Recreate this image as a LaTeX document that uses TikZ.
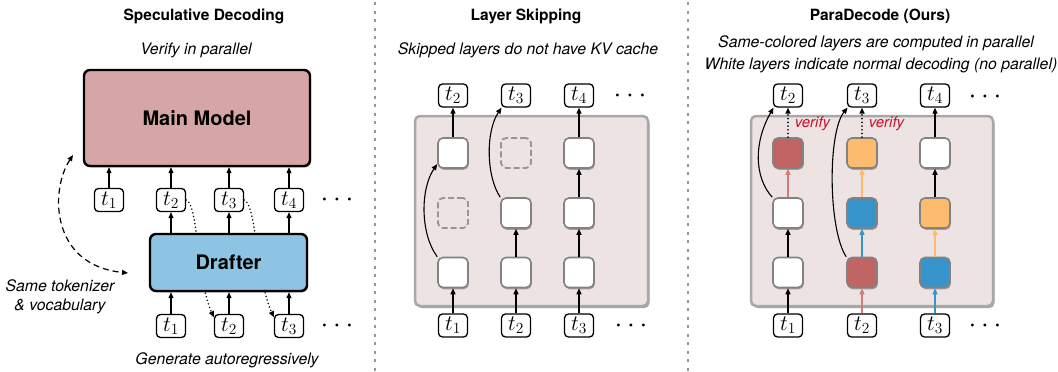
\RequirePackage{fix-cm}
\documentclass[tikz,border=0pt]{standalone}
\usepackage[no-math]{fontspec}
\setmainfont{TeX Gyre Heros}
\usetikzlibrary{arrows.meta,shadows}
\definecolor{mmfill}{RGB}{214,166,166}
\definecolor{drfill}{RGB}{141,196,227}
\definecolor{boxfill}{RGB}{237,227,227}
\definecolor{boxline}{RGB}{168,168,168}
\definecolor{cellline}{RGB}{130,130,130}
\definecolor{cred}{RGB}{192,100,100}
\definecolor{corange}{RGB}{253,187,109}
\definecolor{cblue}{RGB}{55,148,202}
\definecolor{ared}{RGB}{208,122,122}
\definecolor{vred}{RGB}{200,16,46}
\definecolor{sepgray}{RGB}{150,150,150}
\begin{document}
\begin{tikzpicture}[x=1pt,y=-1pt,
  tok/.style={draw,line width=1.3pt,rounded corners=4pt,fill=white,minimum width=29pt,minimum height=23pt,inner sep=0pt,font=\fontsize{22}{22}\selectfont},
  cshadow/.style={drop shadow={shadow xshift=0.8pt,shadow yshift=-1.8pt,opacity=0.3,fill=black}},
  cell/.style={draw=cellline,line width=1.6pt,rounded corners=5pt,minimum size=30pt,inner sep=0pt,fill=white,cshadow},
  skipcell/.style={draw=cellline!85,dash pattern=on 6pt off 3pt,line width=1.8pt,rounded corners=5pt,minimum size=30pt,inner sep=0pt},
  bigbox/.style={draw=boxline,line width=2.5pt,fill=boxfill,rounded corners=5pt,drop shadow={shadow xshift=1.5pt,shadow yshift=-2pt,opacity=0.35,fill=black}},
  model/.style={draw=black,line width=2.4pt,rounded corners=6pt,font=\fontsize{20}{24}\selectfont\bfseries,drop shadow={shadow xshift=1pt,shadow yshift=-1.5pt,opacity=0.3,fill=black}},
  arr/.style={-{Triangle[length=6pt,width=5pt]},line width=1.1pt},
  vdot/.style={arr,line width=1.6pt,line cap=round,dash pattern=on 0.1pt off 3.6pt},
  title/.style={font=\fontsize{15.5}{18}\selectfont\bfseries},
  note/.style={font=\fontsize{15.8}{19}\selectfont\itshape},
  vlab/.style={font=\fontsize{15}{18}\selectfont\itshape,text=vred,anchor=west,inner sep=0pt,xshift=6pt},
  dotsn/.style={font=\fontsize{28}{28}\selectfont,inner sep=0pt},
  sep/.style={sepgray,line width=2pt,dash pattern=on 3pt off 5.5pt}
]
\fill[white] (0,0) rectangle (1058,372);
\useasboundingbox (0,0) rectangle (1058,372);

% ---------------- Panel 1 ----------------
\node[title] (h1) at (204,16) {Speculative Decoding};
\node[note] (n1) at (196,50) {Verify in parallel};
\node[model,fill=mmfill,minimum width=226pt,minimum height=96pt] (mm) at (197,118) {Main Model};
\node[tok] (p1t1) at (109,200) {$t_1$};
\node[tok] (p1t2) at (171,200) {$t_2$};
\node[tok] (p1t3) at (229,200) {$t_3$};
\node[tok] (p1t4) at (289,200) {$t_4$};
\node[dotsn] (p1d1) at (337,200) {$\cdots$};
\node[tok] (p1b1) at (171,326) {$t_1$};
\node[tok] (p1b2) at (229,326) {$t_2$};
\node[tok] (p1b3) at (289,326) {$t_3$};
\node[dotsn] (p1d2) at (337,326) {$\cdots$};
\draw[vdot] (p1t2.east) .. controls +(12,3) and +(-17,-37) .. (p1b2.150);
\draw[vdot] (p1t3.east) .. controls +(12,3) and +(-17,-37) .. (p1b3.150);
\node[model,fill=drfill,minimum width=157pt,minimum height=57pt] (dr) at (228.5,262.5) {Drafter};
\foreach \i in {1,2,3,4} {\draw[arr] (p1t\i) -- (p1t\i |- mm.south);}
\foreach \i in {2,3,4} {\draw[arr] (p1t\i |- dr.north) -- (p1t\i);}
\foreach \i in {1,2,3} {\draw[arr] (p1b\i) -- (p1b\i |- dr.south);}
\coordinate (sv1) at (73,155);
\coordinate (sv2) at (128,273);
\draw[{Triangle[length=6pt,width=5pt]}-{Triangle[length=6pt,width=5pt]},line width=1.2pt,dash pattern=on 6pt off 4pt] (sv1) .. controls (50,190) and (50,265) .. (sv2);
\node[note,align=center] (n1b) at (60,297) {Same tokenizer\\\& vocabulary};
\node[note] (n1c) at (227,360) {Generate autoregressively};

% separators
\draw[sep] (375,2) -- (375,372);
\draw[sep] (688,2) -- (688,372);

% ---------------- Panel 2 ----------------
\node[title] (h2) at (526,16) {Layer Skipping};
\node[note] (n2) at (528,50) {Skipped layers do not have KV cache};
\node[bigbox,minimum width=233pt,minimum height=190pt] (box2) at (531.5,211) {};
\node[cell] (s11) at (453,153) {};
\node[skipcell] (s21) at (453,213) {};
\node[cell] (s31) at (453,272.5) {};
\node[skipcell] (s12) at (516,153) {};
\node[cell] (s22) at (516,213) {};
\node[cell] (s32) at (516,272.5) {};
\node[cell] (s13) at (579,153) {};
\node[cell] (s23) at (579,213) {};
\node[cell] (s33) at (579,272.5) {};
\node[tok] (q2t2) at (453,95.5) {$t_2$};
\node[tok] (q2t3) at (516,95.5) {$t_3$};
\node[tok] (q2t4) at (579,95.5) {$t_4$};
\node[dotsn] (q2d1) at (630,96) {$\cdots$};
\node[tok] (q2b1) at (453,325.5) {$t_1$};
\node[tok] (q2b2) at (516,325.5) {$t_2$};
\node[tok] (q2b3) at (579,325.5) {$t_3$};
\node[dotsn] (q2d2) at (631,326) {$\cdots$};
\draw[arr] (q2b1) -- (s31);
\draw[arr] (s31.north west) .. controls +(-17,-23) and +(-17,25) .. (s11.215);
\draw[arr] (s11) -- (q2t2);
\draw[arr] (q2b2) -- (s32);
\draw[arr] (s32) -- (s22);
\draw[arr] (s22.north west) .. controls +(-14,-21) and +(-16,24) .. (q2t3.220);
\draw[arr] (q2b3) -- (s33);
\draw[arr] (s33) -- (s23);
\draw[arr] (s23) -- (s13);
\draw[arr] (s13) -- (q2t4);

% ---------------- Panel 3 ----------------
\node[title] (h3) at (880,16) {ParaDecode (Ours)};
\node[note] (n3a) at (876,43) {Same-colored layers are computed in parallel};
\node[note] (n3b) at (881,65) {White layers indicate normal decoding (no parallel)};
\node[bigbox,minimum width=242pt,minimum height=190pt] (box3) at (872,211) {};
\node[cell,fill=cred] (p11) at (788,153) {};
\node[cell] (p21) at (788,213) {};
\node[cell] (p31) at (788,272.5) {};
\node[cell,fill=corange] (p12) at (862,153) {};
\node[cell,fill=cblue] (p22) at (862,213) {};
\node[cell,fill=cred] (p32) at (862,272.5) {};
\node[cell] (p13) at (935,153) {};
\node[cell,fill=corange] (p23) at (935,213) {};
\node[cell,fill=cblue] (p33) at (935,272.5) {};
\node[tok] (r3t2) at (788,95.5) {$t_2$};
\node[tok] (r3t3) at (862,95.5) {$t_3$};
\node[tok] (r3t4) at (935,95.5) {$t_4$};
\node[dotsn] (r3d1) at (985,97) {$\cdots$};
\node[tok] (r3b1) at (788,325.5) {$t_1$};
\node[tok] (r3b2) at (862,325.5) {$t_2$};
\node[tok] (r3b3) at (935,325.5) {$t_3$};
\node[dotsn] (r3d2) at (985,326) {$\cdots$};
\draw[arr] (r3b1) -- (p31);
\draw[arr] (p31) -- (p21);
\draw[arr,ared] (p21) -- (p11);
\draw[vdot] (p11) -- (r3t2) node[vlab,pos=0.45] (v1) {verify};
\draw[arr] (p21.north west) .. controls +(-18,-20) and +(-20,35) .. (r3t2.220);
\draw[arr,ared] (r3b2) -- (p32);
\draw[arr,cblue] (p32) -- (p22);
\draw[arr,corange] (p22) -- (p12);
\draw[vdot] (p12) -- (r3t3) node[vlab,pos=0.45] (v2) {verify};
\draw[arr] (p32.north west) .. controls +(-18,-27) and +(-20,25) .. (r3t3.220);
\draw[arr,cblue] (r3b3) -- (p33);
\draw[arr,corange] (p33) -- (p23);
\draw[arr] (p23) -- (p13);
\draw[arr] (p13) -- (r3t4);
\end{tikzpicture}
\end{document}
